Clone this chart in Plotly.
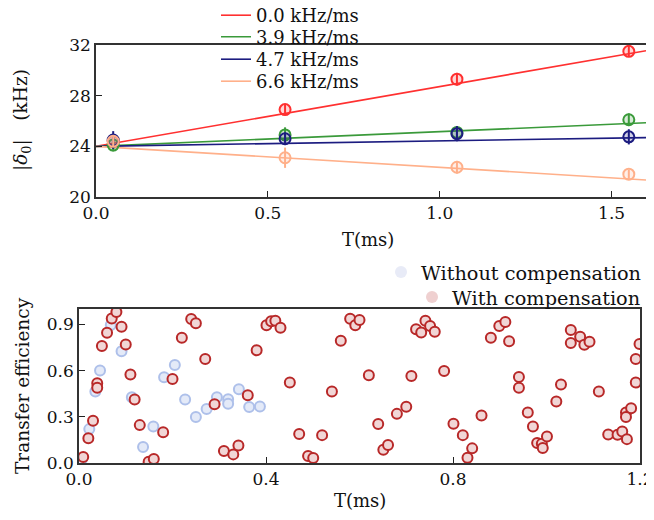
import plotly.graph_objects as go

# ---------------- Top panel data ----------------
T_top = [0.05, 0.55, 1.05, 1.55]
series_names = ["0.0 kHz/ms", "3.9 kHz/ms", "4.7 kHz/ms", "6.6 kHz/ms"]
delta_red = [24.4, 26.9, 29.3, 31.5]
delta_green = [24.1, 24.9, 25.1, 26.1]
delta_blue = [24.5, 24.6, 25.0, 24.75]
delta_salmon = [24.4, 23.1, 22.35, 21.8]
err_red = [0.5, 0.4, 0.5, 0.45]
err_green = [0.5, 0.6, 0.5, 0.5]
err_blue = [0.7, 0.5, 0.6, 0.6]
err_salmon = [0.4, 0.8, 0.5, 0.35]
fit_intercept = [24.0, 24.0, 24.0, 24.0]
fit_slope = [4.72, 1.16, 0.43, -1.66]
fit_T = [0.0, 1.6]
top_colors = ["#ff3030", "#3a9a3a", "#1c1c80", "#ffb08a"]
top_fills = ["rgba(255,48,48,0.2)", "rgba(58,154,58,0.2)", "rgba(28,28,128,0.2)", "rgba(255,176,138,0.2)"]

# ---------------- Bottom panel data ----------------
T_without = [0.005, 0.022, 0.035, 0.045, 0.068, 0.091, 0.113, 0.137, 0.159, 0.182,
             0.205, 0.227, 0.250, 0.273, 0.295, 0.319, 0.319, 0.342, 0.364, 0.387]
E_without = [0.02, 0.22, 0.464, 0.60, 0.896, 0.725, 0.427, 0.104, 0.237, 0.557,
             0.637, 0.412, 0.298, 0.35, 0.427, 0.414, 0.384, 0.479, 0.363, 0.367]

T_with = [0.009, 0.020, 0.030, 0.039, 0.039, 0.049, 0.060, 0.070, 0.080, 0.091,
          0.100, 0.110, 0.119, 0.130, 0.149, 0.160, 0.180, 0.200, 0.220, 0.240,
          0.250, 0.270, 0.290, 0.310, 0.330, 0.341, 0.361, 0.380, 0.401, 0.411,
          0.420, 0.431, 0.451, 0.471, 0.490, 0.501, 0.520, 0.541, 0.560, 0.580,
          0.591, 0.600, 0.620, 0.640, 0.651, 0.661, 0.680, 0.700, 0.711, 0.721,
          0.732, 0.741, 0.751, 0.761, 0.781, 0.801, 0.821, 0.831, 0.841, 0.861,
          0.881, 0.899, 0.912, 0.920, 0.941, 0.941, 0.960, 0.971, 0.980, 0.990,
          0.992, 1.001, 1.021, 1.031, 1.052, 1.052, 1.072, 1.081, 1.092, 1.112,
          1.132, 1.152, 1.162, 1.172, 1.170, 1.181, 1.170, 1.191, 1.191, 1.199]
E_with = [0.039, 0.16, 0.274, 0.518, 0.488, 0.76, 0.846, 0.939, 0.98, 0.885,
          0.77, 0.574, 0.412, 0.246, 0.008, 0.026, 0.20, 0.546, 0.813, 0.935,
          0.907, 0.675, 0.382, 0.078, 0.056, 0.114, 0.44, 0.732, 0.894, 0.92,
          0.924, 0.878, 0.522, 0.188, 0.045, 0.032, 0.181, 0.464, 0.794, 0.937,
          0.894, 0.928, 0.57, 0.253, 0.086, 0.117, 0.319, 0.365, 0.565, 0.868,
          0.848, 0.924, 0.889, 0.852, 0.598, 0.255, 0.181, 0.034, 0.095, 0.308,
          0.813, 0.889, 0.915, 0.79, 0.559, 0.488, 0.328, 0.237, 0.13, 0.125,
          0.097, 0.172, 0.399, 0.509, 0.863, 0.779, 0.82, 0.768, 0.788, 0.464,
          0.185, 0.183, 0.205, 0.155, 0.328, 0.356, 0.298, 0.522, 0.675, 0.773]

top_xticks = [0.0, 0.5, 1.0, 1.5]
top_yticks = [20, 24, 28, 32]
bot_xticks = [0.0, 0.4, 0.8, 1.2]
bot_yticks = [0.0, 0.3, 0.6, 0.9]

FONT = "DejaVu Serif"
OFF = 8                      # page body margin
W, H = 654 - 2 * OFF, 520 - 2 * OFF

def px_x(p):
    return (p - OFF) / W

def px_y(p):
    return 1 - (p - OFF) / H

fig = go.Figure()

top_legend_ids = ["legend", "legend2", "legend3", "legend4"]
top_legend_tops = [-3, 18.5, 41, 63]

top_vals = [delta_red, delta_green, delta_blue, delta_salmon]
top_errs = [err_red, err_green, err_blue, err_salmon]
for i in range(4):
    fit_y = [fit_intercept[i] + fit_slope[i] * t for t in fit_T]
    fig.add_trace(go.Scatter(
        x=fit_T, y=fit_y, mode="lines", name=series_names[i],
        line=dict(color=top_colors[i], width=1.6),
        xaxis="x", yaxis="y", legend=top_legend_ids[i], showlegend=True))
for i in range(4):
    fig.add_trace(go.Scatter(
        x=T_top, y=top_vals[i], mode="markers", showlegend=False,
        marker=dict(symbol="circle", size=11, color=top_fills[i],
                    line=dict(color=top_colors[i], width=2)),
        error_y=dict(type="data", array=top_errs[i], color=top_colors[i],
                     thickness=2, width=0),
        xaxis="x", yaxis="y"))

# bottom
fig.add_trace(go.Scatter(
    x=T_without, y=E_without, mode="markers", showlegend=False,
    marker=dict(symbol="circle", size=10, color="#e4eaf8",
                line=dict(color="#aec0ea", width=2)),
    xaxis="x2", yaxis="y2"))
fig.add_trace(go.Scatter(
    x=T_with, y=E_with, mode="markers", showlegend=False,
    marker=dict(symbol="circle", size=10, color="#f1d6d6",
                line=dict(color="#b82828", width=2)),
    xaxis="x2", yaxis="y2"))
fig.add_trace(go.Scatter(
    x=[None], y=[None], mode="markers", name="Without compensation",
    marker=dict(symbol="circle", size=12, color="#e8ebf7"),
    xaxis="x2", yaxis="y2", legend="legend5", showlegend=True))
fig.add_trace(go.Scatter(
    x=[None], y=[None], mode="markers", name="With compensation",
    marker=dict(symbol="circle", size=12, color="#efd0d0"),
    xaxis="x2", yaxis="y2", legend="legend6", showlegend=True))

axis_common = dict(showgrid=False, zeroline=False, showline=True, mirror=True,
                   automargin=False, ticklabeloverflow="allow",
                   linecolor="#333333", linewidth=1.5, ticks="inside", ticklen=6,
                   tickwidth=1.2, tickcolor="#222222",
                   tickfont=dict(family=FONT, size=17, color="#111111"))

legend_style = dict(bgcolor="rgba(0,0,0,0)", tracegroupgap=0, itemwidth=30)
top_legends = {}
for lid, top in zip(top_legend_ids, top_legend_tops):
    top_legends[lid] = dict(legend_style, x=px_x(216), xanchor="left",
                            y=px_y(top), yanchor="top",
                            font=dict(family=FONT, size=18, color="#111111"))

fig.update_layout(
    width=W, height=H,
    margin=dict(l=0, r=0, t=0, b=0, autoexpand=False),
    paper_bgcolor="white", plot_bgcolor="white",
    font=dict(family=FONT, size=17, color="#111111"),
    xaxis=dict(axis_common, domain=[px_x(96), px_x(646)], range=[0, 1.6],
               tickvals=top_xticks, ticktext=["%.1f" % v for v in top_xticks],
               anchor="y"),
    yaxis=dict(axis_common, domain=[px_y(197), px_y(45)], range=[20, 32],
               tickvals=top_yticks, anchor="x"),
    xaxis2=dict(axis_common, domain=[px_x(79), px_x(640)], range=[0, 1.2],
                tickvals=bot_xticks, ticktext=["%.1f" % v for v in bot_xticks],
                anchor="y2"),
    yaxis2=dict(axis_common, domain=[px_y(463), px_y(309)], range=[0, 1.0],
                tickvals=bot_yticks, ticktext=["%.1f" % v for v in bot_yticks],
                anchor="x2"),
    legend5=dict(legend_style, x=px_x(646), xanchor="right", y=px_y(253), yanchor="top",
                 font=dict(family=FONT, size=19.3, color="#111111"),
                 itemsizing="constant"),
    legend6=dict(legend_style, x=px_x(646), xanchor="right", y=px_y(278), yanchor="top",
                 font=dict(family=FONT, size=19.3, color="#111111"),
                 itemsizing="constant"),
    annotations=[
        dict(text="T(ms)", x=px_x(368), y=px_y(240), xref="paper", yref="paper",
             xanchor="center", yanchor="middle",
             showarrow=False, font=dict(family=FONT, size=18)),
        dict(text="T(ms)", x=px_x(360), y=px_y(500), xref="paper", yref="paper",
             xanchor="center", yanchor="middle",
             showarrow=False, font=dict(family=FONT, size=18)),
        dict(text="|<i>δ</i><sub>0</sub>|\u2002\u2002(kHz)", x=px_x(22), y=px_y(120),
             xref="paper", yref="paper", xanchor="center", yanchor="middle",
             showarrow=False, textangle=-90, font=dict(family=FONT, size=18.5)),
        dict(text="Transfer efficiency", x=px_x(22), y=px_y(386), xref="paper", yref="paper",
             xanchor="center", yanchor="middle",
             showarrow=False, textangle=-90, font=dict(family=FONT, size=18.5)),
    ],
)
fig.update_layout(**top_legends)

fig.write_html("out.html")
